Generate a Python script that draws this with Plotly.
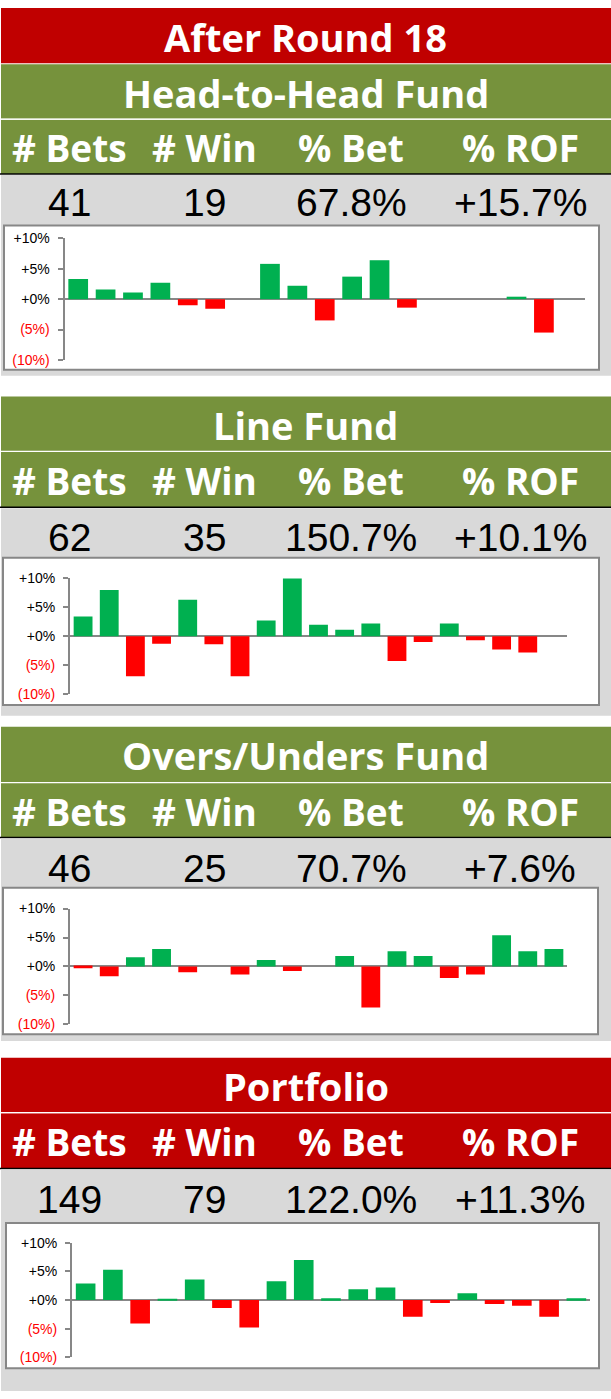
import plotly.graph_objects as go

W, H = 611, 1399

# round-by-round return on fund (%), None = no bets that round
rounds = [str(i) for i in range(1, 20)]
h2h_rof = [3.3, 1.6, 1.1, 2.7, -1.0, -1.6, None, 5.8, 2.2, -3.5, 3.7, 6.4, -1.4, None, None, None, 0.4, -5.5, None]
line_rof = [3.4, 8.0, -6.9, -1.3, 6.3, -1.4, -6.9, 2.7, 10.2, 2.0, 1.1, 2.2, -4.3, -1.0, 2.2, -0.7, -2.3, -2.8, None]
ou_rof = [-0.3, -1.7, 1.6, 3.0, -1.0, None, -1.4, 1.1, -0.8, None, 1.8, -7.1, 2.6, 1.8, -2.0, -1.4, 5.4, 2.6, 3.0]
port_rof = [2.9, 5.3, -4.1, 0.2, 3.6, -1.4, -4.8, 3.3, 7.0, 0.3, 1.9, 2.2, -2.9, -0.5, 1.2, -0.7, -1.0, -2.9, 0.3]

main_title = "After Round 18"
fund_names = ["Head-to-Head Fund", "Line Fund", "Overs/Unders Fund", "Portfolio"]
stat_headers = ["# Bets", "# Win", "% Bet", "% ROF"]
n_bets = [41, 62, 46, 149]
n_win = [19, 35, 25, 79]
pct_bet = [67.8, 150.7, 70.7, 122.0]
pct_rof = [15.7, 10.1, 7.6, 11.3]
tick_vals = [10, 5, 0, -5, -10]
tick_text = ["+10%", "+5%", "+0%", "(5%)", "(10%)"]

series = [h2h_rof, line_rof, ou_rof, port_rof]

# colours
RED_HDR = "#C00000"
GREEN_HDR = "#76923C"
GREY_BG = "#D9D9D9"
BAR_UP = "#00B050"
BAR_DN = "#FF0000"
AXIS_GREY = "#878787"

# pixel layout of each block (top-down)
title_rows = [(57, 112), (393, 448), (727, 783), (1062, 1117)]
header_rows = [(113, 168), (449, 505), (784, 839), (1118, 1174)]
grey_rows = [(169, 372), (506, 716), (840, 1045), (1175, 1399)]
box_rows = [(220, 366), (556, 705), (890, 1038), (1229, 1376)]
box_cols = [(4, 599), (3, 599), (3, 598), (6, 599)]
axis_y = [(233, 356), (577, 694), (911, 1028), (1249, 1365)]
axis_x = [(64.5, 585), (70, 567), (70, 567), (72, 590)]
number_y = [197, 536, 870, 1205]
col_x = [69, 205, 351, 520]
title_colors = [GREEN_HDR, GREEN_HDR, GREEN_HDR, RED_HDR]


def px(x):
    return x / W


def py(y):
    return 1 - y / H


shapes = []
annotations = []


def rect(x0, y0, x1, y1, fill, line=None, lw=0):
    shapes.append(dict(type="rect", xref="paper", yref="paper",
                       x0=px(x0), x1=px(x1), y0=py(y1), y1=py(y0),
                       fillcolor=fill, line=dict(color=line or fill, width=lw),
                       layer="below"))


def hline(y, color, lw):
    shapes.append(dict(type="line", xref="paper", yref="paper",
                       x0=0, x1=1, y0=py(y), y1=py(y),
                       line=dict(color=color, width=lw), layer="below"))


def text(x, y, s, size, color, family, bold=False):
    annotations.append(dict(xref="paper", yref="paper", x=px(x), y=py(y),
                            text=f"<b>{s}</b>" if bold else s, showarrow=False,
                            xanchor="center", yanchor="middle",
                            font=dict(size=size, color=color, family=family)))


TITLE_FONT = "Open Sans"
NUM_FONT = "Liberation Sans"

# top banner
rect(1, 0, W, 56, RED_HDR)
text(W / 2, 29.5, main_title, 38, "white", TITLE_FONT, bold=True)

fig = go.Figure()

for i in range(4):
    t0, t1 = title_rows[i]
    h0, h1 = header_rows[i]
    g0, g1 = grey_rows[i]
    rect(1, t0, W, t1, title_colors[i])
    rect(1, h0, W, h1, title_colors[i])
    hline(h0 - 0.5, "white", 1.2)
    hline(h1, "black", 1.5)
    rect(1, g0, W, g1, GREY_BG)
    b0, b1 = box_rows[i]
    c0, c1 = box_cols[i]
    rect(c0, b0, c1, b1, "white", AXIS_GREY, 2)

    text(W / 2, (t0 + t1) / 2 + 1, fund_names[i], 38, "white", TITLE_FONT, bold=True)
    for k, lab in enumerate(stat_headers):
        text(col_x[k], (h0 + h1) / 2 + 1, lab, 37, "white", TITLE_FONT, bold=True)

    vals = [str(n_bets[i]), str(n_win[i]), f"{pct_bet[i]:.1f}%", f"+{pct_rof[i]:.1f}%"]
    for k, v in enumerate(vals):
        text(col_x[k], number_y[i], v, 39, "black", NUM_FONT)

    ys = series[i]
    colors = [BAR_UP if (v is not None and v >= 0) else BAR_DN for v in ys]
    sfx = "" if i == 0 else str(i + 1)
    fig.add_trace(go.Bar(x=rounds, y=ys, marker=dict(color=colors, line=dict(width=0)),
                         xaxis="x" + sfx, yaxis="y" + sfx, showlegend=False))

    a0, a1 = axis_y[i]
    x0, x1 = axis_x[i]
    fig.update_layout(**{
        "xaxis" + sfx: dict(domain=[px(x0), px(x1)], anchor="y" + sfx,
                            type="category", range=[-0.5, 18.5],
                            showticklabels=False, showgrid=False,
                            zeroline=False, showline=False, ticks=""),
        "yaxis" + sfx: dict(domain=[py(a1), py(a0)], anchor="x" + sfx,
                            range=[-10, 10], tickvals=tick_vals,
                            ticktext=[t if v >= 0 else f"<span style='color:{BAR_DN}'>{t}</span>"
                                      for t, v in zip(tick_text, tick_vals)],
                            tickfont=dict(family=NUM_FONT, size=14, color="black"),
                            ticklabelstandoff=5,
                            showgrid=False, showline=True, linecolor=AXIS_GREY,
                            linewidth=2, ticks="outside", ticklen=5, tickwidth=2,
                            tickcolor=AXIS_GREY, zeroline=True,
                            zerolinecolor=AXIS_GREY, zerolinewidth=2),
    })

fig.update_layout(
    width=W, height=H,
    margin=dict(l=0, r=0, t=0, b=0),
    paper_bgcolor="white", plot_bgcolor="rgba(0,0,0,0)",
    bargap=0.28,
    shapes=shapes, annotations=annotations,
)

# drop the browser's default page margin so the figure sits at 0,0
fig.write_html("out.html", config={"displayModeBar": False},
               post_script="document.body.style.margin='0';")
